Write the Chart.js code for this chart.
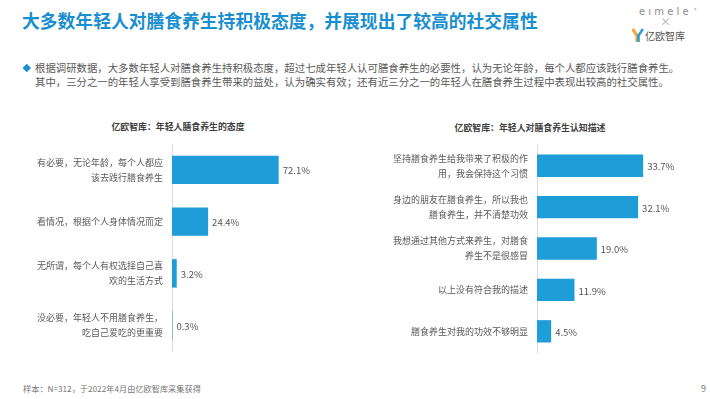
<!DOCTYPE html>
<html>
<head>
<meta charset="utf-8">
<script src="https://cdn.jsdelivr.net/npm/chart.js@4"></script>
<style>
  html, body { margin:0; padding:0; background:#fff; }
  body { width:710px; height:399px; position:relative; overflow:hidden;
         font-family:"Noto Sans CJK SC","Noto Sans",sans-serif; }
  .abs { position:absolute; white-space:nowrap; }
  #title { left:22px; top:8px; font-size:17.8px; font-weight:bold; color:#1a8fd0; line-height:24px; }
  #desc { left:35px; top:61px; font-size:10.4px; color:#595959; line-height:14px; }
  #bullet { left:24px; top:65px; width:5.5px; height:5.5px; background:#1a8fd0; transform:rotate(45deg); }
  .ctitle { font-size:8.9px; font-weight:bold; color:#404040; transform:translateX(-50%); line-height:12px; }
  #foot { left:23px; top:382px; font-size:8.2px; color:#777; line-height:12px; }
  #page { left:701px; top:383px; font-size:9px; color:#777; line-height:12px; }
  #logo1 { left:639px; top:5px; font-size:10px; color:#8c8c8c; letter-spacing:3.2px; line-height:13px; font-family:"DejaVu Sans","Noto Sans",sans-serif; }
  #logoR { left:694px; top:6px; font-size:5px; color:#999; line-height:8px; }
  #logo2 { left:660px; top:15px; font-size:11px; color:#aaa; line-height:13px; }
  #logo3 { left:645px; top:30px; font-size:10px; color:#555; line-height:12px; }
  #logoY { left:632px; top:28px; }
  canvas { position:absolute; }
</style>
</head>
<body>
<div id="title" class="abs">大多数年轻人对膳食养生持积极态度，并展现出了较高的社交属性</div>
<div id="bullet" class="abs"></div>
<div id="desc" class="abs">根据调研数据，大多数年轻人对膳食养生持积极态度，超过七成年轻人认可膳食养生的必要性，认为无论年龄，每个人都应该践行膳食养生。<br>其中，三分之一的年轻人享受到膳食养生带来的益处，认为确实有效；还有近三分之一的年轻人在膳食养生过程中表现出较高的社交属性。</div>
<div id="logo1" class="abs">eımele</div>
<div id="logoR" class="abs">®</div>
<div id="logo2" class="abs">×</div>
<svg id="logoY" class="abs" width="12" height="15" viewBox="0 0 12 15">
  <path d="M0.5 1 L5 7.5 L5 14" stroke="#f2a93b" stroke-width="3.2" fill="none"/>
  <path d="M11 1 L6.5 7.5 L6.5 14" stroke="#2a9fd6" stroke-width="2.6" fill="none"/>
</svg>
<div id="logo3" class="abs">亿欧智库</div>
<div class="abs ctitle" style="left:178px;top:121px;">亿欧智库：年轻人膳食养生的态度</div>
<div class="abs ctitle" style="left:530px;top:122px;">亿欧智库：年轻人对膳食养生认知描述</div>
<div id="foot" class="abs">样本：N=312，于2022年4月由亿欧智库采集获得</div>
<div id="page" class="abs">9</div>

<canvas id="c1" width="330" height="215" style="left:20px;top:140px;width:330px;height:215px;"></canvas>
<canvas id="c2" width="340" height="215" style="left:370px;top:140px;width:340px;height:215px;"></canvas>

<script>
const leftCategories = [
  ["有必要，无论年龄，每个人都应", "该去践行膳食养生"],
  ["看情况，根据个人身体情况而定"],
  ["无所谓，每个人有权选择自己喜", "欢的生活方式"],
  ["没必要，年轻人不用膳食养生，", "吃自己爱吃的更重要"]
];
const leftValues = [72.1, 24.4, 3.2, 0.3];

const rightCategories = [
  ["坚持膳食养生给我带来了积极的作", "用，我会保持这个习惯"],
  ["身边的朋友在膳食养生，所以我也", "膳食养生，并不清楚功效"],
  ["我想通过其他方式来养生，对膳食", "养生不是很感冒"],
  ["以上没有符合我的描述"],
  ["膳食养生对我的功效不够明显"]
];
const rightValues = [33.7, 32.1, 19.0, 11.9, 4.5];

const BAR_COLOR = "#1e9dd8";
const FONT = '"Noto Sans CJK SC","Noto Sans",sans-serif';

const valueLabels = {
  id: "valueLabels",
  afterDatasetsDraw(chart) {
    const ctx = chart.ctx;
    const meta = chart.getDatasetMeta(0);
    const data = chart.data.datasets[0].data;
    ctx.save();
    ctx.font = "9.5px " + FONT;
    ctx.fillStyle = "#555555";
    ctx.textBaseline = "middle";
    ctx.textAlign = "left";
    meta.data.forEach((bar, i) => {
      ctx.fillText(data[i].toFixed(1) + "%", bar.x + 4, bar.y + 1);
    });
    ctx.restore();
  }
};

function makeChart(id, labels, values, max, axisWidth, padding, barPct) {
  return new Chart(document.getElementById(id), {
    type: "bar",
    data: {
      labels: labels,
      datasets: [{
        data: values,
        backgroundColor: BAR_COLOR,
        borderWidth: 0,
        categoryPercentage: 1,
        barPercentage: barPct
      }]
    },
    options: {
      indexAxis: "y",
      responsive: false,
      maintainAspectRatio: false,
      animation: false,
      devicePixelRatio: 1,
      layout: { padding: padding, autoPadding: false },
      plugins: { legend: { display: false }, tooltip: { enabled: false } },
      scales: {
        x: { display: false, min: 0, max: max },
        y: {
          afterFit(scale) {
            scale.width = axisWidth;
            scale.paddingTop = 0;
            scale.paddingBottom = 0;
          },
          grid: { display: false, drawTicks: false },
          border: { display: true, color: "#dcdcdc", width: 1 },
          ticks: {
            padding: 9,
            color: "#595959",
            font: { size: 9, family: FONT, lineHeight: 1.65 }
          }
        }
      }
    },
    plugins: [valueLabels]
  });
}

makeChart("c1", leftCategories, leftValues, 100, 152, { top: 4, bottom: 4, left: 0, right: 30 }, 0.55);
makeChart("c2", rightCategories, rightValues, 40, 167, { top: 5, bottom: 3, left: 0, right: 47 }, 0.54);
</script>
</body>
</html>
